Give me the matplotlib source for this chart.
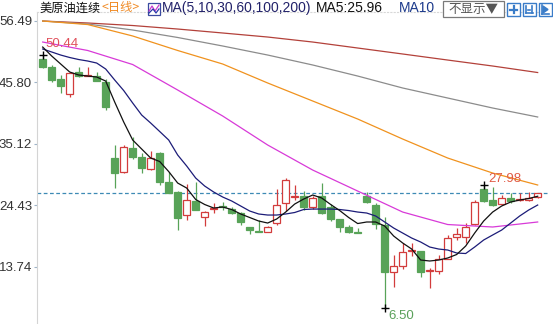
import matplotlib
matplotlib.use('Agg')
import matplotlib.pyplot as plt
from matplotlib.patches import Rectangle
from matplotlib.lines import Line2D

plt.rcParams['font.family'] = ['Liberation Sans', 'Noto Sans CJK SC', 'DejaVu Sans']

# ---------------- data ----------------
opens = [49.8, 48.37, 46.28, 43.72, 47.5, 46.85, 46.85, 45.86, 32.54, 30.11,
         34.29, 32.72, 30.64, 33.52, 28.48, 26.74, 22.69, 25.18, 22.29, 23.7,
         24.2, 23.68, 23.09, 20.55, 19.9, 19.79, 21.25, 24.73, 25.9, 25.99,
         24.03, 25.99, 24.13, 21.94, 20.55, 19.8, 25.99, 24.43, 20.95, 12.84,
         13.83, 16.5, 16.43, 12.9, 13.01, 15.03, 18.81, 18.81, 21.13, 27.16,
         25.3, 24.6, 25.6, 25.3, 25.3, 25.77]
highs = [50.44, 48.7, 47.0, 47.4, 48.47, 48.47, 47.6, 46.28, 34.86, 34.86,
         36.2, 33.4, 33.87, 33.6, 30.22, 26.9, 28.08, 28.48, 23.4, 24.8,
         25.0, 24.03, 23.3, 20.66, 21.8, 20.8, 27.16, 29.07, 27.9, 26.9,
         26.0, 28.2, 24.6, 22.0, 20.95, 20.5, 26.74, 24.7, 22.3, 15.74,
         17.88, 17.88, 16.5, 13.43, 15.74, 19.2, 20.38, 21.25, 25.3, 27.98,
         27.6, 26.17, 26.46, 26.57, 26.74, 26.57]
lows = [48.2, 45.87, 43.85, 43.25, 46.7, 46.8, 45.9, 40.94, 27.33, 30.0,
        32.37, 29.94, 30.5, 27.9, 26.5, 20.08, 21.82, 23.5, 20.78, 23.1,
        23.6, 22.8, 20.95, 19.39, 19.7, 19.7, 20.95, 23.44, 25.3, 23.56,
        23.68, 22.9, 21.7, 19.74, 19.6, 19.5, 24.73, 20.2, 6.50, 10.12,
        13.25, 15.6, 11.86, 9.95, 12.43, 14.99, 18.3, 17.77, 21.0, 24.9,
        24.3, 24.5, 24.83, 25.2, 25.2, 25.7]
closes = [48.5, 46.16, 45.17, 47.32, 46.85, 47.08, 46.04, 41.4, 30.05, 34.56,
          32.83, 30.81, 32.55, 28.48, 26.57, 22.12, 25.3, 23.56, 23.27, 23.9,
          24.0, 22.99, 21.53, 20.09, 19.8, 20.66, 24.43, 28.78, 26.0, 24.03,
          25.7, 22.98, 21.94, 20.55, 19.74, 19.6, 25.0, 21.13, 12.84, 13.83,
          16.31, 16.6, 12.84, 13.1, 14.99, 18.64, 19.39, 20.66, 25.0, 25.18,
          24.43, 25.6, 25.18, 25.5, 25.6, 26.45]

ma5 = [51.89, 50.33, 48.94, 47.55, 47.03, 46.85, 46.68, 45.98, 42.33, 38.86,
       35.73, 34.16, 32.6, 31.99, 30.25, 28.25, 27.38, 25.39, 24.52, 23.91,
       24.08, 23.65, 22.87, 22.26, 21.65, 21.3, 22.0, 23.21, 24.6, 25.47,
       26.17, 25.65, 24.52, 23.47, 22.26, 21.21, 21.48, 21.48, 20.78, 19.04,
       17.83, 16.78, 14.87, 14.7, 14.87, 15.22, 15.83, 17.3, 19.56, 21.65,
       23.21, 24.26, 24.95, 25.3, 25.56, 25.96]
ma10 = [51.55, 51.03, 50.5, 50.07, 49.72, 49.46, 49.11, 48.07, 46.16, 44.33,
        42.16, 40.07, 38.68, 37.21, 35.73, 33.12, 31.21, 29.12, 27.73, 26.69,
        25.82, 25.13, 24.26, 23.39, 22.87, 22.69, 22.69, 22.87, 23.13, 23.65,
        23.73, 23.73, 23.73, 23.65, 23.47, 23.21, 23.04, 22.52, 21.48, 20.43,
        19.56, 18.69, 18.0, 17.13, 16.78, 16.61, 16.09, 16.0, 17.13, 18.35,
        19.22, 20.08, 21.3, 22.52, 23.56, 24.43]
ma_long_idx = [0, 5, 10, 15, 20, 25, 30, 35, 40, 45, 50, 55]
ma30 = [52.76, 51.29, 48.85, 44.42, 39.9, 34.86, 30.51, 26.86, 23.21, 21.04, 20.61, 21.48]
ma60 = [56.41, 55.8, 53.81, 51.29, 48.94, 45.64, 42.51, 39.38, 35.9, 32.6, 29.99, 27.91]
ma100 = [56.41, 55.89, 54.85, 53.55, 52.07, 50.5, 48.77, 46.85, 44.77, 43.03, 41.29, 39.73]
ma200 = [56.41, 56.07, 55.63, 55.02, 54.33, 53.63, 52.76, 51.72, 50.68, 49.63, 48.59, 47.46]

yticks = [56.49, 45.80, 35.12, 24.43, 13.74]
title_name = '美原油连续'
period = '<日线>'
ma_title = 'MA(5,10,30,60,100,200)'
ma5_label = 'MA5:25.96'
ma10_label = 'MA10'

# ---------------- figure ----------------
W, H = 553, 324
fig = plt.figure(figsize=(W / 100, H / 100), dpi=100)
fig.patch.set_facecolor('white')

def fx(px):
    return px / W

def fy(py):
    return 1 - py / H

ax = fig.add_axes([fx(37), 0, (550 - 37) / W, (H - 12) / H])
ax.set_xlim(-0.633, 56.37)
ax.set_ylim(3.75, 57.98)

RED = '#d23c3c'
GREEN = '#58a358'
bw = 0.72
for i, (o, h, l, c) in enumerate(zip(opens, highs, lows, closes)):
    up = c >= o
    col = RED if up else GREEN
    ax.vlines(i, l, h, color=col, lw=0.9, zorder=2)
    bottom = min(o, c)
    height = max(abs(c - o), 0.08)
    ax.add_patch(Rectangle((i - bw / 2, bottom), bw, height,
                           facecolor='white' if up else col,
                           edgecolor=col, lw=0.9, zorder=3))

x_all = list(range(len(closes)))
ax.plot(ma_long_idx, ma200, color='#b3413a', lw=0.9, zorder=4)
ax.plot(ma_long_idx, ma100, color='#8c8c8c', lw=0.9, zorder=4)
ax.plot(ma_long_idx, ma60, color='#f0921e', lw=0.9, zorder=4)
ax.plot(ma_long_idx, ma30, color='#d83ad8', lw=0.9, zorder=4)
ax.plot(x_all, ma10, color='#1c1c78', lw=0.9, zorder=5)
ax.plot(x_all, ma5, color='#111111', lw=0.9, zorder=6)

# last price dashed line
ax.axhline(closes[-1], color='#3d8ab5', lw=0.9, ls=(0, (3, 2)), zorder=1)

# high / low markers
i_hi = highs.index(max(highs))
i_lo = lows.index(min(lows))
i_rh = 49
for idx, val in [(i_hi, highs[i_hi]), (i_lo, lows[i_lo]), (i_rh, highs[i_rh])]:
    ax.plot(idx, val, marker='+', color='black', ms=6, mew=1.0, zorder=7)
ax.annotate(f'{highs[i_hi]:.2f}', (i_hi, highs[i_hi]), xytext=(2, 4),
            textcoords='offset points', color='#e0505c', fontsize=9.5,
            ha='left', va='bottom', zorder=8)
ax.annotate(f'{highs[i_rh]:.2f}', (i_rh, highs[i_rh]), xytext=(3, 0),
            textcoords='offset points', color='#e05a45', fontsize=9.5,
            ha='left', va='bottom', zorder=8)
ax.annotate(f'{lows[i_lo]:.2f}', (i_lo, lows[i_lo]), xytext=(3, -1),
            textcoords='offset points', color='#5aa05a', fontsize=9.5,
            ha='left', va='top', zorder=8)

# axes styling
for s in ['right', 'bottom']:
    ax.spines[s].set_visible(False)
ax.spines['left'].set_color('#d4d4d4')
ax.spines['left'].set_linewidth(0.8)
ax.spines['top'].set_color('#d8d8d8')
ax.spines['top'].set_linestyle((0, (1, 2)))
ax.spines['top'].set_linewidth(0.8)
ax.set_xticks([])
ax.set_yticks(yticks)
ax.set_yticklabels([f'{v:.2f}' for v in yticks])
ax.tick_params(axis='y', length=2.5, width=0.8, color='#9fb4c8', pad=1,
               labelsize=9.5, labelcolor='#333333')

# ---------------- header ----------------
yc = fy(8)
fig.text(fx(39), yc, title_name, fontsize=8.8, color='#111111', va='center',
         ha='left', family=['Noto Sans CJK SC', 'DejaVu Sans'])
fig.text(fx(101), yc, period, fontsize=8.8, color='#f08a24', va='center',
         ha='left', family=['Noto Sans CJK SC', 'DejaVu Sans'])
# small MA icon
fig.patches.append(Rectangle((fx(148), fy(15)), 12 / W, 12 / H, transform=fig.transFigure,
                             facecolor='white', edgecolor='#3a4aa0', lw=0.9))
fig.lines.append(Line2D([fx(149), fx(152), fx(155), fx(159)],
                        [fy(11), fy(6), fy(11), fy(5)], transform=fig.transFigure,
                        color='#c83ad0', lw=0.9))
fig.lines.append(Line2D([fx(149), fx(153), fx(156), fx(159)],
                        [fy(13), fy(9), fy(13), fy(9)], transform=fig.transFigure,
                        color='#2a3aa8', lw=0.9))
fig.text(fx(162), yc, ma_title, fontsize=10, color='#22226a', va='center', ha='left')
fig.text(fx(316), yc, ma5_label, fontsize=10, color='#111111', va='center', ha='left')
fig.text(fx(399), yc, ma10_label, fontsize=10, color='#1c3a8c', va='center', ha='left')

# "不显示" box
fig.patches.append(Rectangle((fx(443), fy(17)), 61 / W, 16 / H, transform=fig.transFigure,
                             facecolor='white', edgecolor='#7a7a7a', lw=0.9))
fig.text(fx(473.5), fy(9), '不显示▼', fontsize=9, color='#555555', va='center', ha='center',
         family=['Noto Sans CJK SC', 'DejaVu Sans'])
# three small icon buttons
BLUE = '#3a7cc8'
for x0 in [507, 523, 539]:
    fig.patches.append(Rectangle((fx(x0), fy(16)), 13 / W, 13 / H, transform=fig.transFigure,
                                 facecolor='white', edgecolor=BLUE, lw=1.0))
# icon 1: cross
fig.lines.append(Line2D([fx(510), fx(517)], [fy(9.5), fy(9.5)], transform=fig.transFigure, color=BLUE, lw=1.6))
fig.lines.append(Line2D([fx(513.5), fx(513.5)], [fy(6), fy(13)], transform=fig.transFigure, color=BLUE, lw=1.6))
# icon 2: bars
fig.lines.append(Line2D([fx(526), fx(526)], [fy(6), fy(13)], transform=fig.transFigure, color=BLUE, lw=1.2))
fig.lines.append(Line2D([fx(532), fx(532)], [fy(6), fy(13)], transform=fig.transFigure, color=BLUE, lw=1.2))
fig.lines.append(Line2D([fx(526), fx(533)], [fy(13), fy(13)], transform=fig.transFigure, color=BLUE, lw=1.2))
fig.lines.append(Line2D([fx(528), fx(530)], [fy(9.5), fy(9.5)], transform=fig.transFigure, color=BLUE, lw=1.2))
# icon 3: play-to-end
fig.patches.append(plt.Polygon([[fx(543), fy(6)], [fx(543), fy(13)], [fx(548), fy(9.5)]],
                               closed=True, transform=fig.transFigure, facecolor=BLUE, edgecolor=BLUE))
fig.lines.append(Line2D([fx(541.5), fx(541.5)], [fy(5), fy(14)], transform=fig.transFigure, color=BLUE, lw=1.2))
fig.lines.append(Line2D([fx(541.5), fx(549)], [fy(14), fy(14)], transform=fig.transFigure, color=BLUE, lw=1.2))

fig.savefig('out.png', dpi=100, facecolor='white')
